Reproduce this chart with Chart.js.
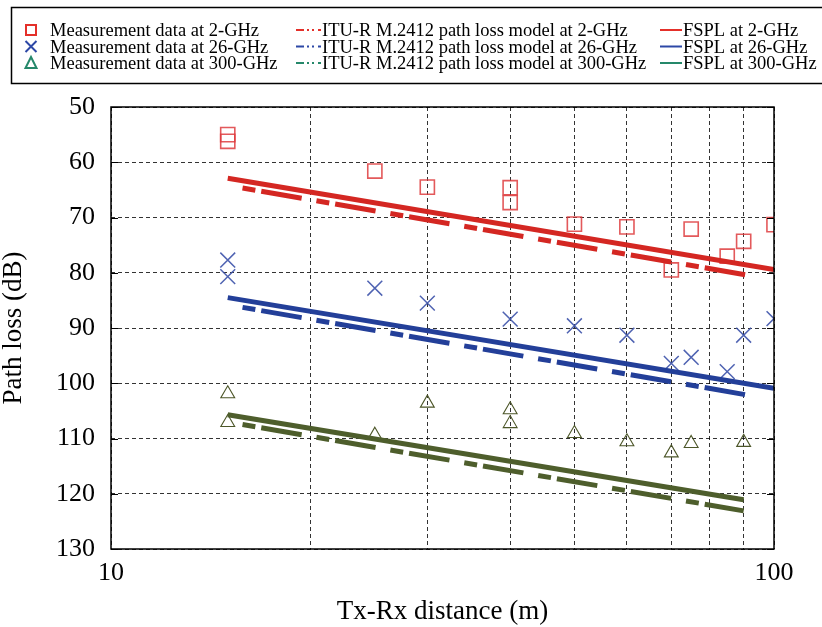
<!DOCTYPE html>
<html>
<head>
<meta charset="utf-8">
<script src="https://cdn.jsdelivr.net/npm/chart.js@4.4.1/dist/chart.umd.min.js"></script>
<style>
    html, body { margin: 0; padding: 0; background: #fff; }
    #wrap { width: 822px; height: 627px; }
</style>
</head>
<body>
<div id="wrap"><canvas id="pathLoss" width="822" height="627"></canvas></div>
<script>
// measured points (distance in m, path loss in dB)
const meas2Dist = [15, 15, 25, 30, 40, 40, 50, 60, 70, 75, 85, 90, 100];
const meas2Loss = [55.0, 56.2, 61.6, 64.5, 64.6, 67.3, 71.2, 71.7, 79.5, 72.1, 77.0, 74.3, 71.3];
const meas26Dist = [15, 15, 25, 30, 40, 50, 60, 70, 75, 85, 90, 100];
const meas26Loss = [77.7, 80.7, 82.8, 85.5, 88.4, 89.6, 91.3, 96.4, 95.3, 97.9, 91.3, 88.3];
const meas300Dist = [15, 15, 25, 30, 40, 40, 50, 60, 70, 75, 90];
const meas300Loss = [101.9, 107.1, 109.4, 103.6, 104.8, 107.3, 109.1, 110.6, 112.6, 110.9, 110.7];

// model lines (end points)
const fsplDist = [15, 100];
const fspl2 = [62.9, 79.4];
const fspl26 = [84.5, 100.9];
const fspl300Dist = [15, 90];
const fspl300 = [105.7, 121.1];
const ituDist = [15, 95];
const itu2 = [64.2, 80.8];
const itu26 = [85.8, 102.5];
const itu300Dist = [15, 90];
const itu300 = [107.0, 123.1];

const xTicks = [10, 20, 30, 40, 50, 60, 70, 80, 90, 100];
const xLabelled = [10, 100];

const measLabels = ['Measurement data at 2-GHz', 'Measurement data at 26-GHz', 'Measurement data at 300-GHz'];
const ituLabels = ['ITU-R M.2412 path loss model at 2-GHz', 'ITU-R M.2412 path loss model at 26-GHz', 'ITU-R M.2412 path loss model at 300-GHz'];
const fsplLabels = ['FSPL at 2-GHz', 'FSPL at 26-GHz', 'FSPL at 300-GHz'];

const FONT = "'Liberation Serif', 'Times New Roman', serif";
Chart.defaults.font.family = FONT;
Chart.defaults.color = '#000';

const RED = '#d42722';
const BLUE = '#233f99';
const OLIVE = '#4e5e2c';
const legendColors = ['#e4302a', '#2d48a6', '#25886a'];

function toPoints(xs, ys) {
    return xs.map((x, i) => ({ x: x, y: ys[i] }));
}

function lineSet(label, xs, ys, color, dashed) {
    return {
        label: label,
        data: toPoints(xs, ys),
        showLine: true,
        borderColor: color,
        borderWidth: 5,
        borderDash: dashed ? [13, 6, 41, 15] : [],
        borderDashOffset: dashed ? 60 : 0,
        pointRadius: 0,
        pointHitRadius: 0,
    };
}

function markerSet(label, xs, ys, color, style, radius, width) {
    return {
        label: label,
        data: toPoints(xs, ys),
        showLine: false,
        pointStyle: style,
        pointRadius: radius,
        pointBorderWidth: width,
        pointBorderColor: color,
        pointBackgroundColor: 'rgba(0,0,0,0)',
        borderColor: color,
        backgroundColor: 'rgba(0,0,0,0)',
    };
}

// legend box + frame + inward ticks
const paperPlugin = {
    id: 'paper',
    afterDraw(chart) {
        const ctx = chart.ctx;
        const area = chart.chartArea;
        const yScale = chart.scales.y;
        ctx.save();

        // inward ticks on left / right
        ctx.strokeStyle = '#000';
        ctx.lineWidth = 1.2;
        yScale.ticks.forEach((t) => {
            const py = Math.round(yScale.getPixelForValue(t.value)) + 0.5;
            ctx.beginPath();
            ctx.moveTo(area.left, py);
            ctx.lineTo(area.left + 7, py);
            ctx.moveTo(area.right, py);
            ctx.lineTo(area.right - 7, py);
            ctx.stroke();
        });

        // plot frame
        ctx.lineWidth = 1.5;
        ctx.strokeRect(area.left, area.top, area.right - area.left, area.bottom - area.top);

        // legend box
        ctx.lineWidth = 1.5;
        ctx.strokeRect(11.5, 7.5, 840, 76);

        ctx.font = '18.5px ' + FONT;
        ctx.fillStyle = '#000';
        ctx.textBaseline = 'alphabetic';
        const rowsY = [30, 46.5, 63];
        const styles = ['rect', 'cross', 'tri'];
        for (let i = 0; i < 3; i++) {
            const cy = rowsY[i];
            const col = legendColors[i];
            // marker
            const mx = 31;
            ctx.strokeStyle = col;
            ctx.lineWidth = 2;
            ctx.setLineDash([]);
            ctx.beginPath();
            if (styles[i] === 'rect') {
                ctx.rect(mx - 5, cy - 5, 10, 10);
            } else if (styles[i] === 'cross') {
                ctx.moveTo(mx - 5.5, cy - 5.5);
                ctx.lineTo(mx + 5.5, cy + 5.5);
                ctx.moveTo(mx + 5.5, cy - 5.5);
                ctx.lineTo(mx - 5.5, cy + 5.5);
            } else {
                ctx.moveTo(mx, cy - 6);
                ctx.lineTo(mx + 5.5, cy + 5);
                ctx.lineTo(mx - 5.5, cy + 5);
                ctx.closePath();
            }
            ctx.stroke();
            ctx.fillText(measLabels[i], 50, cy + 6);

            // ITU sample (dash-dot)
            ctx.lineWidth = 1.8;
            ctx.setLineDash([8, 3, 2, 3, 2, 4]);
            ctx.beginPath();
            ctx.moveTo(296, cy);
            ctx.lineTo(321, cy);
            ctx.stroke();
            ctx.setLineDash([]);
            ctx.fillText(ituLabels[i], 322, cy + 6);

            // FSPL sample
            ctx.lineWidth = 2;
            ctx.beginPath();
            ctx.moveTo(660, cy);
            ctx.lineTo(682, cy);
            ctx.stroke();
            ctx.fillText(fsplLabels[i], 683, cy + 6);
        }
        ctx.restore();
    },
};

const gridDash = [4, 3];

new Chart(document.querySelector('#pathLoss'), {
    type: 'scatter',
    data: {
        datasets: [
            lineSet(fsplLabels[0], fsplDist, fspl2, RED, false),
            lineSet(ituLabels[0], ituDist, itu2, RED, true),
            lineSet(fsplLabels[1], fsplDist, fspl26, BLUE, false),
            lineSet(ituLabels[1], ituDist, itu26, BLUE, true),
            lineSet(fsplLabels[2], fspl300Dist, fspl300, OLIVE, false),
            lineSet(ituLabels[2], itu300Dist, itu300, OLIVE, true),
            markerSet(measLabels[0], meas2Dist, meas2Loss, 'rgba(222,60,62,0.85)', 'rect', 10, 1.6),
            markerSet(measLabels[1], meas26Dist, meas26Loss, 'rgba(60,82,170,0.9)', 'crossRot', 10.5, 1.5),
            markerSet(measLabels[2], meas300Dist, meas300Loss, '#4c5628', 'triangle', 8, 1.1),
        ],
    },
    options: {
        responsive: false,
        animation: false,
        devicePixelRatio: 1,
        layout: {
            padding: { top: 107, right: 48, left: 0, bottom: 0 },
        },
        plugins: {
            legend: { display: false },
            tooltip: { enabled: false },
        },
        scales: {
            x: {
                type: 'logarithmic',
                min: 10,
                max: 100,
                afterBuildTicks: (scale) => {
                    scale.ticks = xTicks.map((v) => ({ value: v }));
                },
                afterFit: (scale) => {
                    scale.height = 78;
                },
                ticks: {
                    autoSkip: false,
                    maxRotation: 0,
                    padding: 9,
                    color: '#000',
                    font: { size: 26 },
                    callback: (v) => (xLabelled.includes(v) ? String(v) : ''),
                },
                grid: {
                    color: 'rgba(0,0,0,0.8)',
                    lineWidth: 1,
                    drawTicks: false,
                },
                border: { display: false, dash: gridDash },
                title: {
                    display: true,
                    text: 'Tx-Rx distance (m)',
                    color: '#000',
                    font: { size: 27, lineHeight: 1.1 },
                    padding: 0,
                },
            },
            y: {
                type: 'linear',
                reverse: true,
                min: 50,
                max: 130,
                afterFit: (scale) => {
                    scale.width = 111;
                },
                ticks: {
                    stepSize: 10,
                    padding: 16,
                    color: '#000',
                    font: { size: 26 },
                },
                grid: {
                    color: 'rgba(0,0,0,0.8)',
                    lineWidth: 1,
                    drawTicks: false,
                },
                border: { display: false, dash: gridDash },
                title: {
                    display: true,
                    text: 'Path loss (dB)',
                    color: '#000',
                    font: { size: 27, lineHeight: 1.0 },
                    padding: 0,
                },
            },
        },
    },
    plugins: [paperPlugin],
});
</script>
</body>
</html>
